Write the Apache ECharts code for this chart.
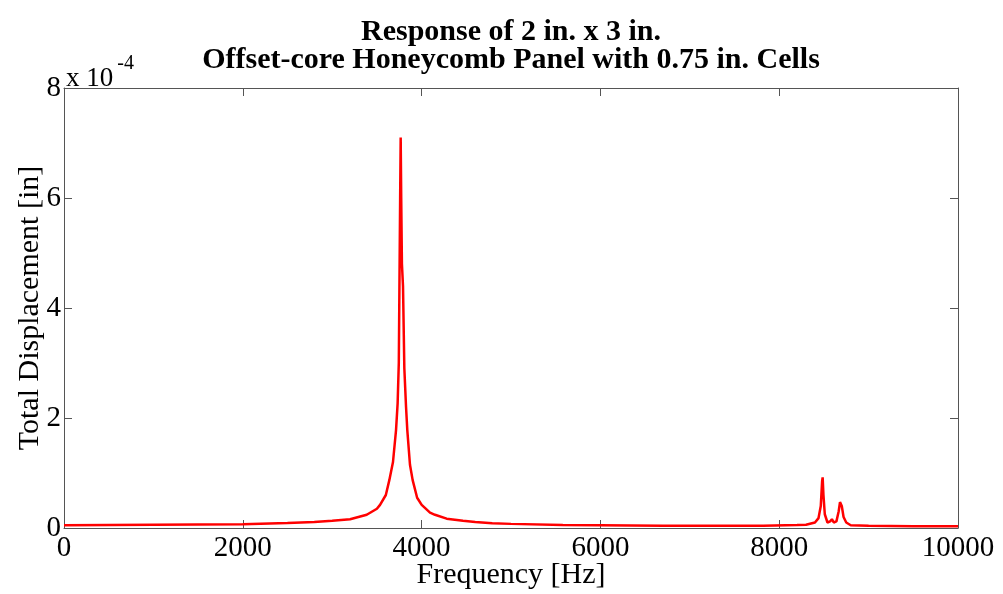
<!DOCTYPE html>
<html>
<head>
<meta charset="utf-8">
<script src="https://cdn.jsdelivr.net/npm/echarts@6/dist/echarts.min.js"></script>
<style>
  html, body { margin: 0; padding: 0; background: #fff; }
  #chart { width: 1003px; height: 594px; }
</style>
</head>
<body>
<div id="chart"></div>
<script>
// Frequency sweep samples [Hz]
const frequency = [
  0, 500, 1000, 1500, 2000, 2500, 2800, 3000, 3200, 3386, 3500, 3535, 3600, 3639,
  3680, 3714, 3732, 3745, 3752, 3760, 3766, 3772, 3780, 3792, 3807, 3826, 3840,
  3870, 3900, 3950, 4001, 4094, 4150, 4280, 4463, 4600, 4790, 4800, 4810, 5000,
  5580, 6000, 6700, 7500, 7820, 8200, 8300, 8400, 8440, 8465, 8480, 8486, 8495,
  8510, 8540, 8570, 8590, 8610, 8640, 8665, 8680, 8690, 8700, 8720, 8750, 8800,
  9000, 9500, 9770, 9790, 9810, 10000
];
// Total displacement [x 1e-4 in]
const displacement = [
  0.05, 0.055, 0.06, 0.065, 0.07, 0.09, 0.11, 0.13, 0.16, 0.24, 0.35, 0.42, 0.6, 0.87,
  1.2, 1.78, 2.27, 3.0, 4.4, 6.0, 7.1, 6.0, 4.8, 4.4, 2.9, 2.2, 1.78,
  1.15, 0.87, 0.55, 0.42, 0.28, 0.24, 0.17, 0.13, 0.11, 0.085, 0.1, 0.085, 0.075,
  0.055, 0.05, 0.04, 0.04, 0.04, 0.055, 0.06, 0.1, 0.18, 0.4, 0.85, 0.92, 0.6,
  0.25, 0.1, 0.12, 0.16, 0.1, 0.12, 0.3, 0.47, 0.49, 0.4, 0.2, 0.1, 0.05,
  0.04, 0.03, 0.03, 0.06, 0.03, 0.03
];
const xTicks = [0, 2000, 4000, 6000, 8000, 10000];
const yTicks = [0, 2, 4, 6, 8];
const titleLines = ['Response of 2 in. x 3 in.', 'Offset-core Honeycomb Panel with 0.75 in. Cells'];

const FONT = '"Liberation Serif", "Times New Roman", serif';
const AXIS_COLOR = '#555';

const chart = echarts.init(document.getElementById('chart'), null, { renderer: 'canvas' });

function boxAxis(pos, ticks, extra) {
  return Object.assign({
    type: 'value',
    position: pos,
    min: ticks[0],
    max: ticks[ticks.length - 1],
    interval: ticks[1] - ticks[0],
    axisLine: { show: true, onZero: false, lineStyle: { color: AXIS_COLOR, width: 1 } },
    axisTick: { show: true, inside: true, length: 8, lineStyle: { color: AXIS_COLOR } },
    splitLine: { show: false },
    axisLabel: { show: false }
  }, extra || {});
}

const tickLabel = (margin) => ({
  show: true,
  color: '#000',
  fontFamily: FONT,
  fontSize: 29,
  margin: margin,
  formatter: (v) => String(v)
});

chart.setOption({
  animation: false,
  backgroundColor: '#fff',
  grid: {
    left: 64, right: 45, top: 88, bottom: 66,
    containLabel: false,
    outerBoundsMode: 'none'
  },
  graphic: [
    {
      type: 'text',
      position: [511, 18],
      style: {
        text: titleLines.join('\n'),
        textAlign: 'center',
        fontFamily: FONT, fontWeight: 'bold', fontSize: 30, lineHeight: 28,
        fill: '#000'
      }
    },
    {
      type: 'text',
      position: [66, 54],
      style: {
        text: '{b|x 10}{s|-4}',
        rich: {
          b: { fontFamily: FONT, fontSize: 27, fill: '#000', verticalAlign: 'bottom' },
          s: { fontFamily: FONT, fontSize: 20, fill: '#000', verticalAlign: 'top', padding: [0, 0, 18, 4] }
        }
      }
    }
  ],
  xAxis: [
    boxAxis('bottom', xTicks, {
      name: 'Frequency [Hz]',
      nameLocation: 'middle',
      nameGap: 32,
      nameMoveOverlap: false,
      nameTextStyle: { fontFamily: FONT, fontSize: 30, color: '#000' },
      axisLabel: tickLabel(6)
    }),
    boxAxis('top', xTicks)
  ],
  yAxis: [
    boxAxis('left', yTicks, {
      name: 'Total Displacement [in]',
      nameLocation: 'middle',
      nameGap: 19,
      nameMoveOverlap: false,
      nameTextStyle: { fontFamily: FONT, fontSize: 30, color: '#000' },
      axisLabel: tickLabel(3)
    }),
    boxAxis('right', yTicks)
  ],
  series: [{
    type: 'line',
    xAxisIndex: 0,
    yAxisIndex: 0,
    data: frequency.map((f, i) => [f, displacement[i]]),
    showSymbol: false,
    smooth: false,
    lineStyle: { color: '#ff0000', width: 2.5 },
    itemStyle: { color: '#ff0000' }
  }]
});
</script>
</body>
</html>
